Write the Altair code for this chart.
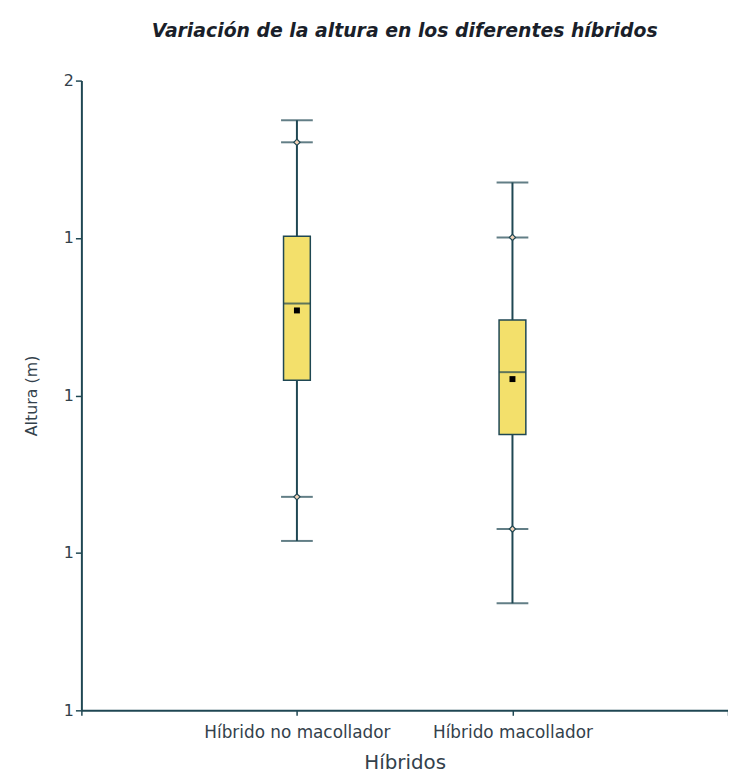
import altair as alt
import pandas as pd

categories = ["Híbrido no macollador", "Híbrido macollador"]
whisker_low = [0.769, 0.670]
p5 = [0.839, 0.788]
q1 = [1.024, 0.938]
median = [1.146, 1.037]
mean = [1.135, 1.026]
q3 = [1.253, 1.120]
p95 = [1.402, 1.251]
whisker_high = [1.437, 1.338]

y_ticks = [0.5, 0.75, 1.0, 1.25, 1.5]
y_tick_labels = ["1", "1", "1", "1", "2"]
x_ticks = [0, 1, 2, 3]
x_tick_labels = ["", categories[0], categories[1], ""]

df = pd.DataFrame({
    "cat": categories,
    "pos": [i + 1 for i in range(len(categories))],
    "wlo": whisker_low, "p5": p5, "q1": q1, "med": median,
    "mean": mean, "q3": q3, "p95": p95, "whi": whisker_high,
})

dark = "#1f4753"
fill = "#f3e06b"
txt = "#33414b"
font = "DejaVu Sans"

def expr_map(vals, labels):
    parts = " : ".join([f"datum.value == {v} ? '{l}'" for v, l in zip(vals, labels)])
    return parts + " : ''"

x_scale = alt.Scale(domain=[0, 3], nice=False, zero=False, padding=0)
x_enc = alt.X("pos:Q", scale=x_scale,
              axis=alt.Axis(title="Híbridos", values=x_ticks,
                            labelExpr=expr_map(x_ticks, x_tick_labels),
                            labelLimit=400, labelOverlap=False,
                            grid=False, domainColor=dark, domainWidth=2,
                            tickColor=dark, tickSize=5, tickWidth=1.5,
                            labelFont=font, labelFontSize=17,
                            labelColor=txt, labelPadding=9,
                            titleFont=font, titleFontSize=20,
                            titleFontWeight="normal", titleColor=txt,
                            titlePadding=13))

y_scale = alt.Scale(domain=[0.5, 1.5], nice=False, zero=False, padding=0)
y_axis = alt.Axis(title="Altura  (m)", values=y_ticks,
                  labelExpr=expr_map(y_ticks, y_tick_labels),
                  grid=False, domainColor=dark, domainWidth=2,
                  tickColor=dark, tickSize=6, tickWidth=1.5,
                  labelFont=font, labelFontSize=16,
                  labelColor=txt, labelPadding=2,
                  titleFont=font, titleFontSize=16,
                  titleFontWeight="normal", titleColor=txt,
                  titlePadding=24)

base = alt.Chart(df)

whisker = base.mark_rule(color=dark, strokeWidth=2).encode(
    x=x_enc, y=alt.Y("wlo:Q", scale=y_scale, axis=y_axis), y2="whi:Q")

box = base.mark_bar(size=27, fill=fill, stroke=dark, strokeWidth=1.5).encode(
    x="pos:Q", y=alt.Y("q1:Q", scale=y_scale), y2="q3:Q")

med = base.mark_tick(orient="horizontal", size=27, thickness=2, color=dark).encode(
    x="pos:Q", y=alt.Y("med:Q", scale=y_scale))

caps = base.transform_fold(["wlo", "whi", "p5", "p95"], as_=["k", "v"]).mark_tick(
    orient="horizontal", size=32, thickness=2, color=dark).encode(
    x="pos:Q", y=alt.Y("v:Q", scale=y_scale))

diam = base.transform_fold(["p5", "p95"], as_=["k", "v"]).mark_point(
    shape="diamond", size=40, filled=True, fill="#f2d2b8", stroke=dark,
    strokeWidth=1.2, opacity=1).encode(
    x="pos:Q", y=alt.Y("v:Q", scale=y_scale))

mn = base.mark_square(size=36, color="#000000", opacity=1).encode(
    x="pos:Q", y=alt.Y("mean:Q", scale=y_scale))

chart = alt.layer(whisker, caps, diam, box, med, mn).properties(
    width=652, height=635,
    autosize=alt.AutoSizeParams(type="none"),
    padding={"left": 74, "top": 70, "right": 0, "bottom": 61},
    title=alt.Title("Variación de la altura en los diferentes híbridos",
                    font=font, fontSize=19, fontWeight="bold",
                    fontStyle="italic", color="#1a1f2a", anchor="middle",
                    offset=32),
).configure_view(stroke=None)

chart.save("out.html", embed_options={"renderer": "svg", "actions": False})
